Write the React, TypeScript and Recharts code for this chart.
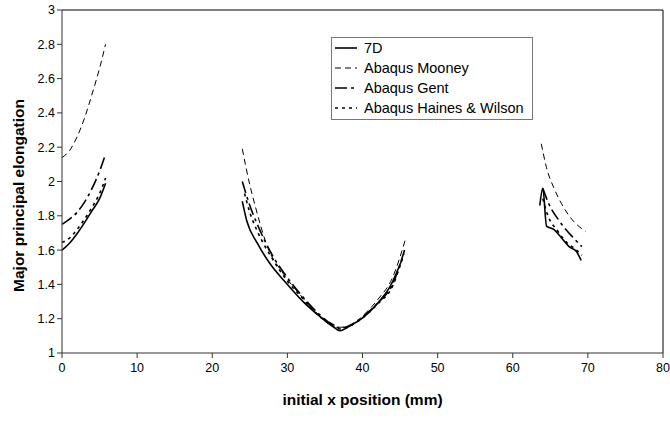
import { Line, LineChart, ReferenceLine, XAxis, YAxis } from "recharts"

const xTicks = [0, 10, 20, 30, 40, 50, 60, 70, 80]
const yTicks = [1, 1.2, 1.4, 1.6, 1.8, 2, 2.2, 2.4, 2.6, 2.8, 3]

// null entries break the curve between the three measured regions
const x7D = [0, 1, 2, 3, 4, 5, 5.8, 15, 24, 24.6, 26, 27.7, 30, 32.2, 34.4, 36.2, 37, 38.4, 40.2, 42, 43.7, 45.3, 55, 63.6, 64, 64.5, 65.5, 66.5, 67.5, 68.5, 69.1]
const y7D = [1.6, 1.64, 1.695, 1.76, 1.83, 1.9, 1.99, null, 1.885, 1.77, 1.64, 1.52, 1.4, 1.295, 1.21, 1.15, 1.13, 1.16, 1.21, 1.29, 1.39, 1.55, null, 1.86, 1.96, 1.74, 1.72, 1.67, 1.62, 1.59, 1.54]

const xMooney = [0, 1, 2, 3, 4, 5, 5.8, 15, 24, 25, 25.7, 27.3, 29.5, 31.7, 33.9, 36, 37.1, 38.5, 40, 42, 44, 45.7, 55, 63.8, 64.5, 65.5, 66.5, 67.5, 68.5, 69.7]
const yMooney = [2.14, 2.18, 2.26, 2.37, 2.51, 2.66, 2.8, null, 2.19, 1.98, 1.86, 1.625, 1.46, 1.34, 1.23, 1.17, 1.15, 1.16, 1.215, 1.31, 1.44, 1.66, null, 2.22, 2.08, 1.96, 1.87, 1.8, 1.75, 1.71]

const xGent = [0, 1, 2, 3, 4, 5, 5.8, 15, 24, 25, 26, 28, 30, 32, 34, 36, 37, 38, 40, 42, 44, 45.6, 55, 64, 64.8, 66.2, 68.1, 69.2]
const yGent = [1.75, 1.78, 1.82, 1.88, 1.96, 2.06, 2.16, null, 2.0, 1.86, 1.75, 1.57, 1.44, 1.33, 1.235, 1.165, 1.145, 1.155, 1.21, 1.29, 1.4, 1.6, null, 1.96, 1.87, 1.77, 1.67, 1.62]

const xHaines = [0, 1, 2, 3, 4, 5, 5.8, 15, 24.3, 25, 26, 28, 30, 32, 34, 36, 37, 38, 40, 42, 44, 45.5, 55, 64, 64.6, 66, 67.3, 68.5, 69.2]
const yHaines = [1.645, 1.67, 1.72, 1.78, 1.85, 1.93, 2.02, null, 1.93, 1.82, 1.71, 1.55, 1.42, 1.32, 1.225, 1.16, 1.14, 1.15, 1.205, 1.285, 1.39, 1.58, null, 1.9, 1.81, 1.71, 1.64, 1.6, 1.57]

const toPoints = (xs: number[], ys: (number | null)[]) => xs.map((x, i) => ({ x, y: ys[i] }))

const series = [
  { name: "7D", data: toPoints(x7D, y7D), dash: undefined, width: 1.6 },
  { name: "Abaqus Mooney", data: toPoints(xMooney, yMooney), dash: "6 4", width: 1 },
  { name: "Abaqus Gent", data: toPoints(xGent, yGent), dash: "12 4 3 4", width: 1.6 },
  { name: "Abaqus Haines & Wilson", data: toPoints(xHaines, yHaines), dash: "3 4", width: 1.6 },
]

const font = "'Liberation Sans', Arial, sans-serif"

// drawn over the chart so that it takes no room from the plot area
function LegendBox() {
  return (
    <div
      style={{
        position: "absolute",
        left: 331,
        top: 37,
        width: 196,
        border: "1px solid #777",
        background: "#fff",
        padding: "0px 2px 1px 2px",
        fontFamily: font,
        fontSize: 14.5,
        color: "#000",
        whiteSpace: "nowrap",
      }}
    >
      {series.map((s) => (
        <div key={s.name} style={{ display: "flex", alignItems: "center", height: 20 }}>
          <svg width={24} height={10} style={{ marginRight: 6 }}>
            <line x1={1} y1={5} x2={23} y2={5} stroke="#000" strokeWidth={s.width} strokeDasharray={s.dash} />
          </svg>
          <span>{s.name}</span>
        </div>
      ))}
    </div>
  )
}

function YLabel(props: any) {
  const vb = props.viewBox || { y: 10, height: 343 }
  const cx = 18
  const cy = vb.y + vb.height / 2 + 14
  return (
    <text
      x={cx}
      y={cy}
      transform={`rotate(-90 ${cx} ${cy})`}
      textAnchor="middle"
      dominantBaseline="central"
      fontFamily={font}
      fontWeight="bold"
      fontSize={15.5}
      fill="#000"
    >
      Major principal elongation
    </text>
  )
}

export default function App() {
  return (
    <div style={{ position: "absolute", left: 0, top: 0, width: 670, height: 441, background: "#fff" }}>
      <LineChart width={670} height={441} margin={{ top: 10, right: 7, bottom: 0, left: 0 }}>
        <XAxis
          type="number"
          dataKey="x"
          domain={[0, 80]}
          ticks={xTicks}
          height={88}
          stroke="#333"
          tickSize={5}
          tick={{ fill: "#000", fontSize: 12.5, fontFamily: font, dy: 3 }}
          label={{
            value: "initial x position (mm)",
            position: "insideBottom",
            offset: 36,
            style: { fontFamily: font, fontWeight: "bold", fontSize: 15.5, fill: "#000" },
          }}
        />
        <YAxis
          type="number"
          domain={[1, 3]}
          ticks={yTicks}
          width={62}
          stroke="#333"
          tickSize={5}
          tick={{ fill: "#000", fontSize: 12.5, fontFamily: font }}
          label={<YLabel />}
        />
        <ReferenceLine y={3} stroke="#000" strokeWidth={1} />
        <ReferenceLine x={80} stroke="#000" strokeWidth={1} />
        {series.map((s) => (
          <Line
            key={s.name}
            name={s.name}
            data={s.data}
            dataKey="y"
            type="monotone"
            stroke="#000"
            strokeWidth={s.width}
            strokeDasharray={s.dash}
            dot={false}
            activeDot={false}
            connectNulls={false}
            isAnimationActive={false}
          />
        ))}
      </LineChart>
      <LegendBox />
    </div>
  )
}
